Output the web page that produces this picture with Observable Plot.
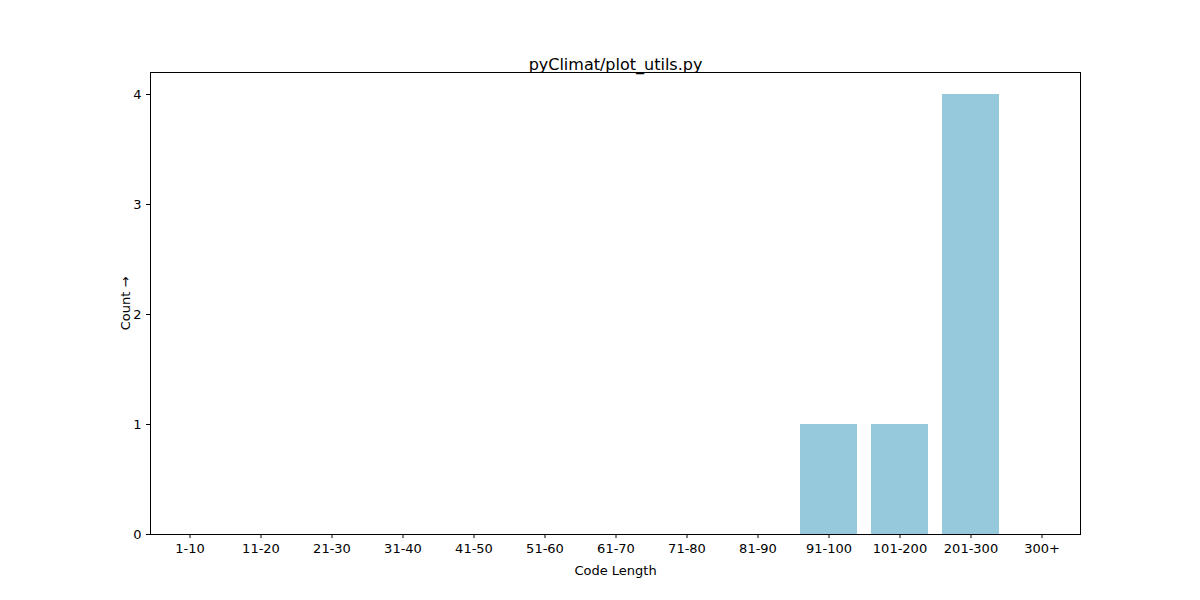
<!DOCTYPE html>
<html>
<head>
<meta charset="utf-8">
<script src="https://cdn.jsdelivr.net/npm/d3@7"></script>
<script src="https://cdn.jsdelivr.net/npm/@observablehq/plot@0.6"></script>
<style>
  body { margin: 0; background: #fff; }
  svg { font-family: "DejaVu Sans", sans-serif; }
</style>
</head>
<body>
<div id="chart"></div>
<script>
const categorias = ["1-10", "11-20", "21-30", "31-40", "41-50", "51-60", "61-70", "71-80", "81-90", "91-100", "101-200", "201-300", "300+"]
const cantidades = [0, 0, 0, 0, 0, 0, 0, 0, 0, 1, 1, 4, 0]
const datos = categorias.map((c, i) => ({rango: c, cantidad: cantidades[i]}))

const chart = Plot.plot({
  width: 1200,
  height: 600,
  marginLeft: 150,
  marginRight: 120,
  marginTop: 72,
  marginBottom: 66,
  style: {fontSize: "13px", fontFamily: "DejaVu Sans, sans-serif", color: "#000"},
  x: {domain: categorias, paddingInner: 0.2, paddingOuter: 0.1, label: "Code Length", labelAnchor: "center", labelOffset: 40, tickSize: 4},
  y: {domain: [0, 4.2], ticks: [0, 1, 2, 3, 4], tickFormat: d3.format("d"), label: "Count", labelAnchor: "center", labelOffset: 30, tickSize: 4},
  marks: [
    Plot.barY(datos, {x: "rango", y: "cantidad", fill: "#96c9dc"}),
    Plot.frame({stroke: "#000"}),
    Plot.text(["pyClimat/plot_utils.py"], {frameAnchor: "top", dy: -14, fontSize: 16})
  ]
})
d3.select("#chart").append(() => chart)
</script>
</body>
</html>
